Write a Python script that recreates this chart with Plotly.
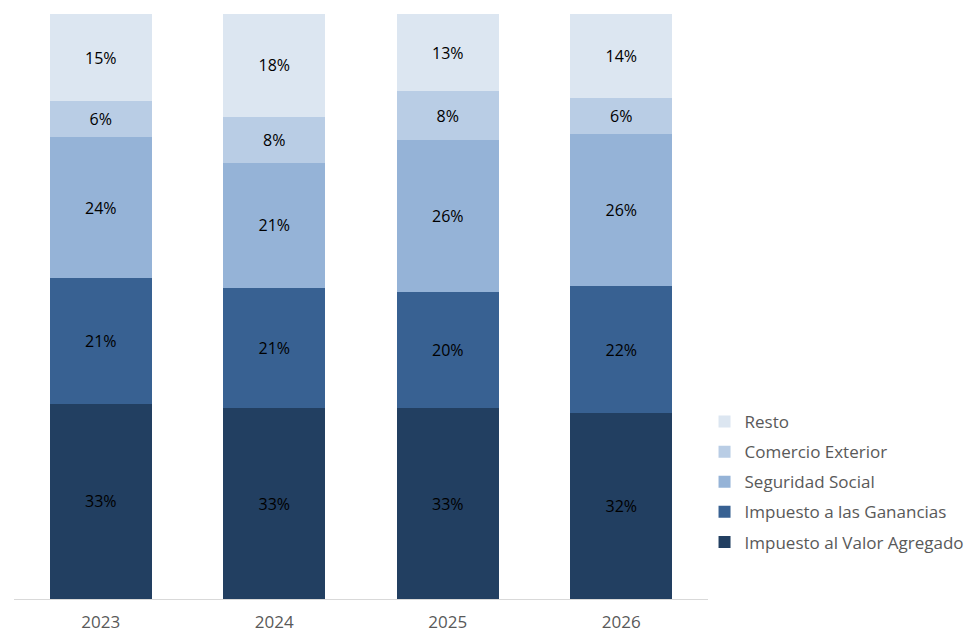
import plotly.graph_objects as go

# años y participación (%) de cada concepto en la recaudación
years = ["2023", "2024", "2025", "2026"]
iva = [33.4, 32.6, 32.6, 31.8]
ganancias = [21.4, 20.6, 19.9, 21.7]
seguridad_social = [24.1, 21.3, 25.9, 26.0]
comercio_exterior = [6.2, 7.9, 8.4, 6.2]
resto = [14.9, 17.6, 13.2, 14.3]

series = [
    ("Impuesto al Valor Agregado", iva, "#223F61"),
    ("Impuesto a las Ganancias", ganancias, "#386192"),
    ("Seguridad Social", seguridad_social, "#95B3D7"),
    ("Comercio Exterior", comercio_exterior, "#B9CDE5"),
    ("Resto", resto, "#DCE6F1"),
]

font_family = "'Open Sans', 'Noto Sans', sans-serif"

fig = go.Figure()
for i, (name, values, color) in enumerate(series):
    fig.add_trace(
        go.Bar(x=years,
               y=values,
               name=name,
               legendgroup=name,
               legendrank=len(series) - i,  # Resto arriba en la leyenda
               marker=dict(color=color, line=dict(width=0)),
               texttemplate="%{y:.0f}%",
               textposition="inside",
               insidetextanchor="middle",
               textangle=0,
               textfont=dict(color="#000000", size=16, family=font_family),
               hoverinfo="skip"))

# la página trae 8px de margen en el body, se descuenta del tamaño
fig.update_layout(
    barmode="stack",
    bargap=0.41,
    width=972,
    height=629,
    margin=dict(l=6, r=272, t=6, b=38, autoexpand=False),
    plot_bgcolor="white",
    paper_bgcolor="white",
    legend=dict(traceorder="grouped",
                x=0.995,
                xanchor="left",
                y=0.2,
                yanchor="middle",
                tracegroupgap=5,
                font=dict(size=17, color="#595959", family=font_family)),
)

fig.update_xaxes(showline=True,
                 linecolor="#D9D9D9",
                 linewidth=1,
                 ticks="",
                 automargin=False,
                 ticklabelstandoff=8,
                 tickfont=dict(size=17, color="#595959", family=font_family))
fig.update_yaxes(range=[0, 100], visible=False, showgrid=False)

fig.write_html("out.html")
